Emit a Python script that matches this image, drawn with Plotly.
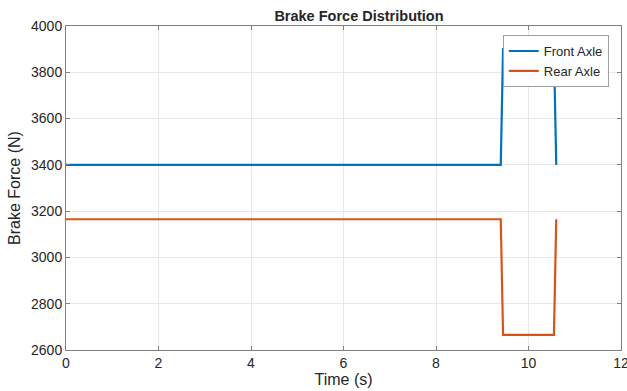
import plotly.graph_objects as go

time_s = [0, 9.4, 9.45, 10.55, 10.6]
front_axle = [3400, 3400, 3900, 3900, 3400]
rear_axle = [3165, 3165, 2665, 2665, 3165]

x_ticks = [0, 2, 4, 6, 8, 10, 12]
y_ticks = [2600, 2800, 3000, 3200, 3400, 3600, 3800, 4000]

fig = go.Figure()
fig.add_trace(go.Scatter(x=time_s, y=front_axle, mode="lines", name="Front Axle",
                         line=dict(color="#0072BD", width=2.2)))
fig.add_trace(go.Scatter(x=time_s, y=rear_axle, mode="lines", name="Rear Axle",
                         line=dict(color="#D95319", width=2.2)))

axis_common = dict(showline=True, linecolor="#808080", linewidth=1, mirror="ticks",
                   ticks="inside", ticklen=4, tickcolor="#808080",
                   showgrid=True, gridcolor="#E8E8E8", gridwidth=1, zeroline=False,
                   ticklabeloverflow="allow", automargin=False,
                   tickfont=dict(family="Liberation Sans, Arial", size=14, color="#262626"))

fig.update_layout(
    width=627, height=391,
    paper_bgcolor="white", plot_bgcolor="white",
    margin=dict(l=66, r=6, t=26, b=41),
    title=dict(text="<b>Brake Force Distribution</b>", x=331 / 627, xanchor="center",
               y=1 - 16 / 391, yanchor="middle", xref="paper",
               font=dict(family="Liberation Sans, Arial", size=14.5, color="#262626")),
    font=dict(family="Liberation Sans, Arial", color="#262626"),
    xaxis=dict(range=[0, 12], tickvals=x_ticks,
               title=dict(text="Time (s)", font=dict(size=16), standoff=4), **axis_common),
    yaxis=dict(range=[2600, 4000], tickvals=y_ticks,
               title=dict(text="Brake Force (N)", font=dict(size=16), standoff=6), **axis_common),
    legend=dict(x=0.978, y=0.972, xanchor="right", yanchor="top",
                bgcolor="white", bordercolor="#A0A0A0", borderwidth=1,
                font=dict(size=13, family="Liberation Sans, Arial", color="#262626"),
                tracegroupgap=0, itemwidth=30),
)
fig.write_html("out.html")
